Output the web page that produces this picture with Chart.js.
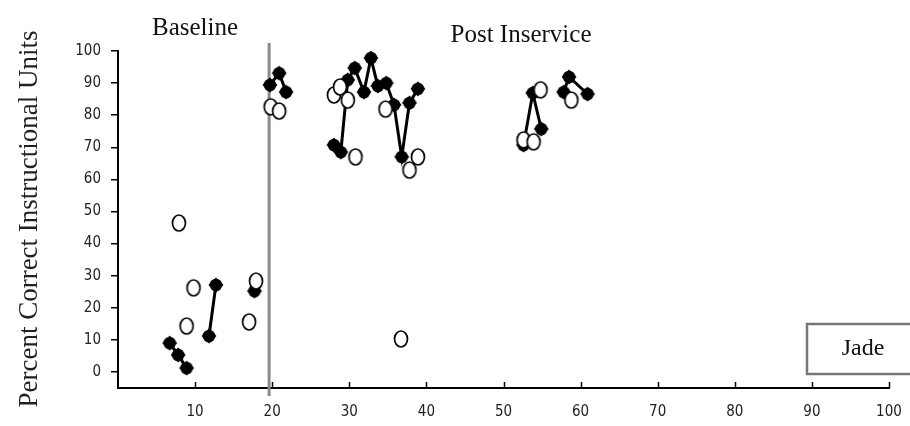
<!DOCTYPE html>
<html>
<head>
<meta charset="utf-8">
<script src="https://cdn.jsdelivr.net/npm/chart.js@4.4.1/dist/chart.umd.min.js"></script>
<style>
  body { margin: 0; background: #fff; }
  canvas { display: block; }
</style>
</head>
<body>
<canvas id="chart" width="910" height="426"></canvas>
<script>
// tick labels
const xTicks = [10, 20, 30, 40, 50, 60, 70, 80, 90, 100];
const yTicks = [0, 10, 20, 30, 40, 50, 60, 70, 80, 90, 100];

// filled markers, joined within each run of sessions: [session, percent]
const filledBase1 = [[6.7, 9.0], [7.8, 5.3], [8.9, 1.2]];
const filledBase2 = [[11.8, 11.2], [12.7, 27.1]];
const filledBase3 = [[17.7, 25.2]];
const filledPost1 = [[19.7, 89.4], [20.9, 93.1], [21.8, 87.2]];
const filledPost2 = [[28.0, 70.7], [28.9, 68.5], [29.8, 91.0], [30.7, 94.7], [31.9, 87.2], [32.8, 97.8],
                     [33.7, 89.1], [34.8, 90.0], [35.8, 83.2], [36.8, 67.0], [37.8, 83.8], [38.9, 88.2]];
const filledPost3 = [[52.6, 70.7], [53.8, 86.9], [54.9, 75.7]];
const filledPost4 = [[57.8, 87.2], [58.5, 91.9], [60.9, 86.6]];

// open markers, not joined
const openBase = [[7.9, 46.4], [8.9, 14.3], [9.8, 26.2], [17.0, 15.6], [17.9, 28.3]];
const openPost = [[19.8, 82.6], [20.9, 81.3], [28.0, 86.3], [28.8, 88.8], [29.8, 84.7], [30.8, 67.0],
                  [34.7, 81.9], [36.7, 10.3], [37.8, 62.9], [38.9, 67.0],
                  [52.6, 72.3], [53.9, 71.7], [54.8, 87.9], [58.8, 84.7]];

const phaseX = 19.6;

function pts(arr) {
    return arr.map(p => ({ x: p[0], y: p[1] }));
}

// marker images
function makeFilled() {
    const c = document.createElement('canvas');
    c.width = 18; c.height = 18;
    const g = c.getContext('2d');
    g.fillStyle = '#000';
    g.beginPath();
    g.moveTo(9, 1.5); g.lineTo(16.5, 9); g.lineTo(9, 16.5); g.lineTo(1.5, 9); g.closePath();
    g.fill();
    g.beginPath();
    g.arc(9, 9, 6.3, 0, Math.PI * 2);
    g.fill();
    return c;
}

function makeOpen() {
    const c = document.createElement('canvas');
    c.width = 18; c.height = 20;
    const g = c.getContext('2d');
    g.beginPath();
    g.ellipse(9, 10, 6.5, 8, 0, 0, Math.PI * 2);
    g.fillStyle = '#fff';
    g.fill();
    g.lineWidth = 1.7;
    g.strokeStyle = '#000';
    g.stroke();
    return c;
}

const filledImg = makeFilled();
const openImg = makeOpen();

function openSet(arr) {
    return {
        data: pts(arr),
        showLine: false,
        pointStyle: openImg,
        pointRadius: 8,
        pointHoverRadius: 8
    };
}

function filledSet(arr) {
    return {
        data: pts(arr),
        showLine: true,
        borderColor: '#000',
        borderWidth: 3,
        pointStyle: filledImg,
        pointRadius: 8,
        pointHoverRadius: 8
    };
}

const serif = '"Liberation Serif", "Times New Roman", serif';
const narrow = '"Liberation Sans Narrow", "DejaVu Sans Condensed", "Arial Narrow", sans-serif';

const decor = {
    id: 'decor',
    beforeDatasetsDraw(chart) {
        const ctx = chart.ctx;
        const x = chart.scales.x.getPixelForValue(phaseX);
        ctx.save();
        ctx.strokeStyle = '#8a8a8a';
        ctx.lineWidth = 3;
        ctx.beginPath();
        ctx.moveTo(x, 43);
        ctx.lineTo(x, 396);
        ctx.stroke();
        ctx.restore();
    },
    afterDraw(chart) {
        const ctx = chart.ctx;
        const xs = chart.scales.x;
        const bottom = chart.chartArea.bottom;
        ctx.save();

        // x ticks point up into the plot
        ctx.strokeStyle = '#000';
        ctx.lineWidth = 1.5;
        xTicks.forEach(v => {
            const px = Math.round(xs.getPixelForValue(v)) + 0.5;
            ctx.beginPath();
            ctx.moveTo(px, bottom);
            ctx.lineTo(px, bottom - 6);
            ctx.stroke();
        });

        ctx.fillStyle = '#111';
        ctx.font = '25px ' + serif;
        ctx.textAlign = 'center';
        ctx.textBaseline = 'middle';
        ctx.fillText('Baseline', 195, 28);
        ctx.fillText('Post Inservice', 521, 35);

        // y title
        ctx.save();
        ctx.translate(37, 219);
        ctx.rotate(-Math.PI / 2);
        ctx.font = '27px ' + serif;
        ctx.fillStyle = '#222';
        ctx.textBaseline = 'alphabetic';
        ctx.fillText('Percent Correct Instructional Units', 0, 0);
        ctx.restore();

        // name box
        ctx.fillStyle = '#fff';
        ctx.fillRect(807, 324, 110, 50);
        ctx.strokeStyle = '#777';
        ctx.lineWidth = 2.5;
        ctx.strokeRect(807, 324, 110, 50);
        ctx.fillStyle = '#111';
        ctx.font = '24px ' + serif;
        ctx.textBaseline = 'middle';
        ctx.fillText('Jade', 863, 349);

        ctx.restore();
    }
};

new Chart(document.getElementById('chart'), {
    type: 'scatter',
    data: {
        datasets: [
            openSet(openBase),
            openSet(openPost),
            filledSet(filledBase1),
            filledSet(filledBase2),
            filledSet(filledBase3),
            filledSet(filledPost1),
            filledSet(filledPost2),
            filledSet(filledPost3),
            filledSet(filledPost4)
        ]
    },
    options: {
        responsive: false,
        animation: false,
        devicePixelRatio: 1,
        layout: { padding: { top: 51, right: 21, left: 0, bottom: 0 } },
        plugins: {
            legend: { display: false },
            tooltip: { enabled: false }
        },
        scales: {
            x: {
                type: 'linear',
                min: 0,
                max: 100,
                afterBuildTicks: s => { s.ticks = xTicks.map(v => ({ value: v })); },
                afterFit: s => { s.height = 38; },
                grid: { display: false },
                border: { display: true, color: '#000', width: 2 },
                ticks: {
                    padding: 7,
                    color: '#222',
                    font: { family: narrow, size: 15 },
                    maxRotation: 0
                }
            },
            y: {
                type: 'linear',
                min: -5,
                max: 100,
                afterBuildTicks: s => { s.ticks = yTicks.map(v => ({ value: v })); },
                afterFit: s => { s.width = 118; },
                grid: {
                    drawOnChartArea: false,
                    drawTicks: true,
                    tickLength: 7,
                    tickColor: '#000',
                    lineWidth: 1.5
                },
                border: { display: true, color: '#000', width: 2 },
                ticks: {
                    padding: 10,
                    color: '#222',
                    font: { family: narrow, size: 15 }
                }
            }
        }
    },
    plugins: [decor]
});
</script>
</body>
</html>
